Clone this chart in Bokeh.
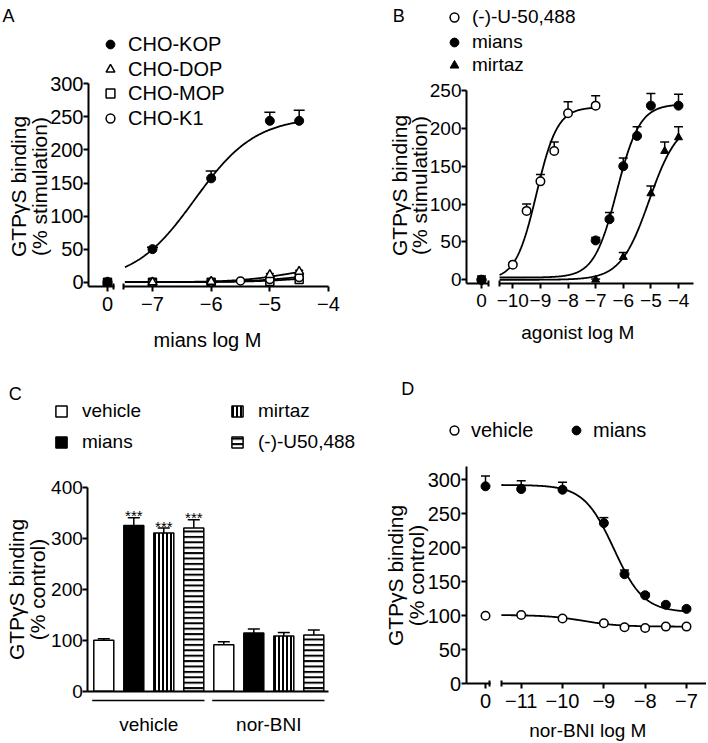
import numpy as np
from bokeh.plotting import figure
from bokeh.layouts import column, row
from bokeh.models import (Range1d, LinearAxis, FixedTicker, CustomJSTickFormatter,
                          Label, Legend, LegendItem, Whisker, TeeHead, ColumnDataSource)
from bokeh.core.properties import value
from bokeh.embed import file_html
from bokeh.resources import INLINE

FONT = "Liberation Sans"
YLAB_FS = "21px"

# ---------------- data ----------------
# Panel A: mians, CHO cell lines, % stimulation (log M)
a_conc = [-7, -6, -5, -4.5]
a_kop = [50, 157, 244, 244]
a_kop_err = [3, 11, 13, 16]
a_dop = [0, 1, 11, 16]
a_dop_err = [1, 1, 2, 2]
a_mop = [0, 0, 1, 4]
a_k1_conc = [-7, -6, -5.5, -5, -4.5]
a_k1 = [0, 0, 2, 4, 7]
a_basal = [0, 0, 0, 0]                 # KOP, DOP, MOP, K1 at "0"
a_fit_kop = [0, 250, -6.28, 0.84]      # bottom, top, logEC50, Hill
a_fit_dop = [0, 25, -4.7, 1.0]
a_fit_mop = [0, 10, -4.5, 1.0]
a_fit_k1 = [0, 14, -4.6, 1.0]
a_fit_span = [-7.47, -4.5]
a_xticks = [-7, -6, -5, -4]
a_yticks = [0, 50, 100, 150, 200, 250, 300]

# Panel B: agonists on CHO-KOP
b_u_conc = [-10, -9.5, -9, -8.5, -8, -7]
b_u = [20, 91, 130, 170, 220, 230]
b_u_err = [1, 9, 9, 12, 15, 13]
b_m_conc = [-7, -6.5, -6, -5.5, -5, -4]
b_m = [52, 80, 150, 190, 230, 230]
b_m_err = [4, 9, 11, 12, 16, 15]
b_z_conc = [-7, -6, -5, -4.5, -4]
b_z = [0, 30, 114, 170, 188]
b_z_err = [1, 6, 10, 12, 14]
b_basal = [0, 0, 0]                    # U-50,488, mians, mirtaz at "0"
b_basal_err = [5, 1, 1]
b_fit_u = [0, 228, -9.14, 1.15]
b_fit_m = [3, 232, -6.23, 1.05]
b_fit_z = [0, 210, -5.06, 0.84]
b_span_u = [-10.48, -7]
b_span_mz = [-10.48, -4]
b_xticks = [-10, -9, -8, -7, -6, -5, -4]
b_yticks = [0, 50, 100, 150, 200, 250]

# Panel C: bars, % control
c_treat = ["vehicle", "mians", "mirtaz", "(-)-U50,488"]
c_pre = ["vehicle", "nor-BNI"]
c_vehicle = [100, 325, 310, 320]
c_vehicle_err = [3, 15, 10, 16]
c_norbni = [91, 114, 108, 110]
c_norbni_err = [6, 8, 7, 10]
c_sig = ["", "***", "***", "***"]
c_yticks = [0, 100, 200, 300, 400]

# Panel D: nor-BNI inhibition
d_conc = [-11, -10, -9, -8.5, -8, -7.5, -7]
d_mians = [286, 285, 236, 161, 130, 116, 110]
d_mians_err = [12, 11, 8, 6, 3, 2, 2]
d_vehicle = [101, 96, 89, 83, 82, 84, 84]
d_vehicle_err = [1, 1, 1, 1, 1, 1, 1]
d_basal = [100, 290]                   # vehicle, mians at "0"
d_basal_err = [1, 15]
d_fit_m = [105, 292, -8.76, -1.2]
d_fit_v = [84, 101, -9.5, -1.0]
d_span = [-11.48, -7]
d_xticks = [-11, -10, -9, -8, -7]
d_yticks = [0, 50, 100, 150, 200, 250, 300]


# ---------------- helpers ----------------
class Panel:
    def __init__(self, ox, oy, w, h, xref, yref, fs):
        (xv1, xp1), (xv2, xp2) = xref
        (yv1, yp1), (yv2, yp2) = yref
        self.ox, self.oy, self.w, self.h, self.fs = ox, oy, w, h, fs
        self.kx = (xp2 - xp1) / (xv2 - xv1)
        self.ky = (yp1 - yp2) / (yv2 - yv1)
        self.x0 = xv1 - (xp1 - ox) / self.kx
        self.y0 = yv1 - (oy + h - yp1) / self.ky
        p = figure(width=w, height=h,
                   x_range=Range1d(self.x0, self.x0 + w / self.kx),
                   y_range=Range1d(self.y0, self.y0 + h / self.ky),
                   x_axis_location=None, y_axis_location=None,
                   toolbar_location=None, output_backend="svg",
                   min_border=0, min_border_left=0, min_border_right=0,
                   min_border_top=0, min_border_bottom=0,
                   outline_line_color=None, background_fill_color="white",
                   border_fill_color="white")
        p.xgrid.visible = False
        p.ygrid.visible = False
        self.p = p

    def X(self, px):
        return self.x0 + (px - self.ox) / self.kx

    def Y(self, py):
        return self.y0 + (self.oy + self.h - py) / self.ky

    def dy(self, npx):
        return npx / self.ky


def axis(pn, side, loc, bounds, ticks, labels=True, tick_in=0, tick_out=5,
         line=True, formatter=None, standoff=5):
    ax = LinearAxis(fixed_location=loc, bounds=tuple(bounds),
                    ticker=FixedTicker(ticks=list(ticks)))
    if formatter is not None:
        ax.formatter = formatter
    ax.axis_line_color = "black" if line else None
    ax.axis_line_width = 2
    ax.major_tick_line_color = "black"
    ax.major_tick_line_width = 2
    ax.major_tick_in = tick_in
    ax.major_tick_out = tick_out
    ax.minor_tick_line_color = None
    ax.major_label_text_font = FONT
    ax.major_label_text_font_size = pn.fs
    ax.major_label_text_color = "black" if labels else None
    ax.major_label_standoff = standoff
    pn.p.add_layout(ax, side)
    return ax


def broken_x(pn, ybot, left_px, zero_px, lend_px, rstart_px, rend, ticks):
    axis(pn, "below", ybot, (pn.X(rstart_px), rend), ticks)
    axis(pn, "below", ybot, (pn.X(left_px), pn.X(lend_px + 0.5)), [pn.X(zero_px)],
         formatter=CustomJSTickFormatter(code="return '0';"))
    axis(pn, "below", ybot, (pn.X(lend_px - 2), pn.X(rstart_px + 2)),
         [pn.X(lend_px), pn.X(rstart_px)], labels=False, tick_in=3, tick_out=3, line=False)


def curve(pn, fit, span, n=240):
    b, t, e, h = fit
    xs = np.linspace(span[0], span[1], n)
    ys = b + (t - b) / (1 + 10 ** ((e - xs) * h))
    pn.p.line(xs, ys, line_color="black", line_width=1.8)


def err(pn, xs, ys, es, head, lw=1.5):
    src = ColumnDataSource(dict(x=list(xs), lo=list(ys),
                                hi=[y + e for y, e in zip(ys, es)]))
    w = Whisker(base="x", lower="lo", upper="hi", source=src, dimension="height",
                line_color="black", line_width=lw,
                upper_head=TeeHead(size=head, line_width=lw, line_color="black"),
                lower_head=None, level="underlay")
    pn.p.add_layout(w)


def pts(pn, xs, ys, marker, filled, size):
    return pn.p.scatter(list(xs), list(ys), marker=marker, size=size,
                        fill_color="black" if filled else "white",
                        line_color="black", line_width=1 if filled else 1.5)


def leg(pn, rend, text, cx, cy, text_x, gw=22, gh=24, fs=None):
    left = cx - gw / 2 - pn.ox
    bottom = pn.oy + pn.h - (cy + gh / 2)
    lg = Legend(items=[LegendItem(label=text, renderers=[rend])],
                location=(round(left), round(bottom)), orientation="vertical",
                border_line_color=None, background_fill_alpha=0,
                padding=0, margin=0, spacing=0,
                glyph_width=gw, glyph_height=gh, label_height=gh,
                label_standoff=int(round(text_x - (cx + gw / 2))),
                label_text_font=FONT, label_text_font_size=fs or pn.fs,
                label_text_color="black")
    pn.p.add_layout(lg)


def txt(pn, px, py, s, align="left", baseline="alphabetic", size=None, angle=0):
    pn.p.add_layout(Label(x=pn.X(px), y=pn.Y(py), text=s, text_font=FONT,
                          text_font_size=size or pn.fs, text_align=align,
                          text_baseline=baseline, angle=angle, angle_units="deg",
                          text_color="black"))


def ylabel(pn, bx1, bx2, cy, l1, l2, size=YLAB_FS):
    txt(pn, bx1, cy, l1, align="center", angle=90, size=size)
    txt(pn, bx2, cy, l2, align="center", angle=90, size=size)


# ---------------- Panel A ----------------
A = Panel(0, 0, 354, 355, ((-7, 152), (-4, 328)), ((0, 281.7), (300, 83.3)), "20px")
ybA = A.Y(286.3)
zA = A.X(107)
axis(A, "left", A.X(88), (ybA, 300), a_yticks, standoff=0)
broken_x(A, ybA, 88, 107, 113, 123, -4, a_xticks)
curve(A, a_fit_kop, a_fit_span)
curve(A, a_fit_dop, a_fit_span)
curve(A, a_fit_mop, a_fit_span)
curve(A, a_fit_k1, a_fit_span)
err(A, a_conc, a_kop, a_kop_err, 11)
err(A, a_conc, a_dop, a_dop_err, 8)
rA_mop = pts(A, [zA] + a_conc, [a_basal[2]] + a_mop, "square", False, 8)
rA_k1 = pts(A, [zA] + a_k1_conc, [a_basal[3]] + a_k1, "circle", False, 8)
rA_dop = pts(A, [zA] + a_conc, [a_basal[1]] + a_dop, "triangle", False, 9)
rA_kop = pts(A, [zA] + a_conc, [a_basal[0]] + a_kop, "circle", True, 9)
for r, t, cy in [(rA_kop, "CHO-KOP", 44), (rA_dop, "CHO-DOP", 68.5),
                 (rA_mop, "CHO-MOP", 93), (rA_k1, "CHO-K1", 118)]:
    leg(A, r, t, 110, cy, 128)
txt(A, 2, 15, "A", size="18px")
ylabel(A, 18, 38.5, 186, "GTP\u03b3S binding", "(% stimulation)")
txt(A, 207, 339, "mians log M", align="center")

# ---------------- Panel B ----------------
B = Panel(354, 0, 352, 355, ((-10, 512.3), (-4, 678)), ((0, 279.3), (250, 90)), "19px")
ybB = B.Y(283.3)
zB = B.X(481)
axis(B, "left", B.X(466), (ybB, 250), b_yticks, standoff=0)
broken_x(B, ybB, 466, 481, 487.5, 498.5, B.X(693), b_xticks)
curve(B, b_fit_u, b_span_u)
curve(B, b_fit_m, b_span_mz)
curve(B, b_fit_z, b_span_mz)
err(B, [zB] + b_u_conc, [b_basal[0]] + b_u, [b_basal_err[0]] + b_u_err, 9)
err(B, b_m_conc, b_m, b_m_err, 9)
err(B, b_z_conc, b_z, b_z_err, 9)
rB_u = pts(B, [zB] + b_u_conc, [b_basal[0]] + b_u, "circle", False, 8.5)
rB_m = pts(B, [zB] + b_m_conc, [b_basal[1]] + b_m, "circle", True, 9)
rB_z = pts(B, [zB] + b_z_conc, [b_basal[2]] + b_z, "triangle", True, 8)
for r, t, cy in [(rB_u, "(-)-U-50,488", 16.7), (rB_m, "mians", 41.7), (rB_z, "mirtaz", 65)]:
    leg(B, r, t, 454, cy, 472.3)
txt(B, 392.3, 15, "B", size="18px")
ylabel(B, 399, 419, 185, "GTP\u03b3S binding", "(% stimulation)")
txt(B, 577.3, 331.7, "agonist log M", align="center")

# ---------------- Panel C ----------------
C = Panel(0, 355, 372, 386, ((0, 103.3), (7, 313.3)), ((0, 690.7), (400, 486.7)), "19px")
axis(C, "left", C.X(87.3), (0, 400), c_yticks, standoff=0)
axis(C, "below", 0, (C.X(87.3), C.X(328.3)), [], labels=False)
nt = len(c_treat)
bar_w = 20 / C.kx
styles = [dict(fill_color="white"), dict(fill_color="black"),
          dict(fill_color="white", hatch_pattern="vertical_line", hatch_scale=4,
               hatch_weight=2, hatch_color="black"),
          dict(fill_color="white", hatch_pattern="horizontal_line", hatch_scale=5.4,
               hatch_weight=2, hatch_color="black")]
bar_r = []
for i, name in enumerate(c_treat):
    xs = [g * nt + i for g in range(len(c_pre))]
    tops = [c_vehicle[i], c_norbni[i]]
    errs = [c_vehicle_err[i], c_norbni_err[i]]
    err(C, xs, tops, errs, 12)
    r = C.p.vbar(x=xs, top=tops, bottom=0, width=bar_w, line_color="black",
                 line_width=1.5, **styles[i])
    bar_r.append(r)
star_x = [i for i in range(nt) if c_sig[i]]
star_y = [c_vehicle[i] + c_vehicle_err[i] + C.dy(2) for i in range(nt) if c_sig[i]]
C.p.text(x=star_x, y=star_y, text=[c_sig[i] for i in range(nt) if c_sig[i]],
         text_font=value(FONT), text_font_size="15px", text_align="center",
         text_baseline="alphabetic", text_color="black")
gx0 = [g * nt - bar_w / 2 - 1.6 / C.kx for g in range(len(c_pre))]
gx1 = [g * nt + nt - 1 + bar_w / 2 + 0.7 / C.kx for g in range(len(c_pre))]
gy = C.Y(700)
C.p.segment(x0=gx0, y0=[gy] * len(c_pre), x1=gx1, y1=[gy] * len(c_pre),
            line_color="black", line_width=1.5)
C.p.text(x=[g * nt + (nt - 1) / 2 for g in range(len(c_pre))], y=[C.Y(724)] * len(c_pre),
         text=c_pre, text_font=value(FONT), text_font_size="19px", text_align="center",
         text_baseline="alphabetic", text_color="black")
for i, (cx, cy, tx) in enumerate([(61.5, 415, 83), (61.5, 446.5, 83),
                                  (237.5, 415, 259), (237.5, 446.5, 259)]):
    leg(C, bar_r[i], c_treat[i], cx, cy, tx, gw=14, gh=14, fs="19px")
txt(C, 8.3, 393.3, "C", size="18px")
ylabel(C, 16, 37, 589, "GTP\u03b3S binding", "(% control)")

# ---------------- Panel D ----------------
D = Panel(372, 355, 334, 386, ((-11, 520.7), (-7, 686)), ((0, 683.3), (300, 479)), "20px")
zD = D.X(485)
axis(D, "left", D.X(465.5), (0, D.Y(466)), d_yticks, standoff=0)
broken_x(D, 0, 465.5, 485, 489, 500.5, D.X(706), d_xticks)
curve(D, d_fit_m, d_span)
curve(D, d_fit_v, d_span)
err(D, [zD] + d_conc, [d_basal[1]] + d_mians, [d_basal_err[1]] + d_mians_err, 9)
err(D, [zD] + d_conc, [d_basal[0]] + d_vehicle, [d_basal_err[0]] + d_vehicle_err, 9)
rD_v = pts(D, [zD] + d_conc, [d_basal[0]] + d_vehicle, "circle", False, 8.5)
rD_m = pts(D, [zD] + d_conc, [d_basal[1]] + d_mians, "circle", True, 9)
leg(D, rD_v, "vehicle", 454, 430, 470.7)
leg(D, rD_m, "mians", 575.7, 430, 592.3)
txt(D, 400.7, 388.3, "D", size="18px")
ylabel(D, 395, 416, 575, "GTP\u03b3S binding", "(% control)")
txt(D, 587.3, 730, "nor-BNI log M", align="center", size="19px")

layout = column(row(A.p, B.p), row(C.p, D.p))
open("out.html", "w").write(file_html(layout, INLINE, "GTPgS binding"))
